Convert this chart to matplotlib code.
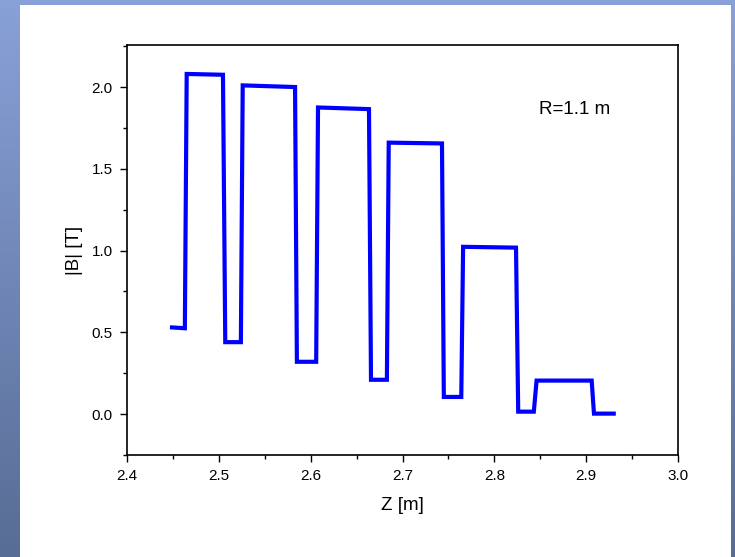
import matplotlib
matplotlib.use('Agg')
import matplotlib.pyplot as plt
import matplotlib.ticker as mticker
from matplotlib.patches import Rectangle
import numpy as np

plt.rcParams['font.family'] = ['Liberation Sans', 'DejaVu Sans']

# ── Data: stepped |B| profile along Z at R=1.1 m ─────────────────────────────
z = [2.449, 2.463, 2.465, 2.5045, 2.507, 2.524, 2.526, 2.583, 2.585, 2.606,
     2.608, 2.6635, 2.6657, 2.683, 2.685, 2.743, 2.745, 2.764, 2.766, 2.8236,
     2.826, 2.843, 2.846, 2.906, 2.9085, 2.930]
b = [0.53, 0.525, 2.08, 2.075, 0.44, 0.44, 2.01, 2.00, 0.32, 0.32,
     1.875, 1.865, 0.21, 0.21, 1.66, 1.655, 0.105, 0.105, 1.023, 1.018,
     0.015, 0.015, 0.205, 0.205, 0.003, 0.003]

xticks = [2.4, 2.5, 2.6, 2.7, 2.8, 2.9, 3.0]
yticks = [0.0, 0.5, 1.0, 1.5, 2.0]

W, H = 735, 557
fig = plt.figure(figsize=(W / 100, H / 100), dpi=100)

# ── Background: blue gradient frame with white panel ────────────────────────
bg = fig.add_axes([0, 0, 1, 1], zorder=-10)
top_c = np.array([136, 161, 216]) / 255
bot_c = np.array([88, 108, 148]) / 255
t = np.linspace(0, 1, 256)[:, None]
grad = (top_c[None, :] * (1 - t) + bot_c[None, :] * t)[:, None, :]
bg.imshow(grad, aspect='auto', extent=[0, W, H, 0])
bg.add_patch(Rectangle((20, 5), 711, H - 5, facecolor='white', edgecolor='none'))
bg.set_xlim(0, W)
bg.set_ylim(H, 0)
bg.axis('off')

# ── Main axes ───────────────────────────────────────────────────────────────
left, right, top, bottom = 127, 678, 45, 455
ax = fig.add_axes([left / W, 1 - bottom / H, (right - left) / W, (bottom - top) / H])
ax.patch.set_alpha(0)

ax.plot(z, b, color='#0000ff', linewidth=3.0, solid_joinstyle='miter')

ax.set_xlim(2.4, 3.0)
ax.set_ylim(-0.25, 2.257)
ax.set_xticks(xticks)
ax.set_yticks(yticks)
ax.xaxis.set_major_formatter(mticker.FormatStrFormatter('%.1f'))
ax.yaxis.set_major_formatter(mticker.FormatStrFormatter('%.1f'))
ax.xaxis.set_minor_locator(mticker.MultipleLocator(0.05))
ax.yaxis.set_minor_locator(mticker.MultipleLocator(0.25))
ax.tick_params(which='major', direction='out', length=5.2, width=1.0, labelsize=11,
               pad=5, top=False, right=False)
ax.tick_params(which='minor', direction='out', length=3, width=1.0,
               top=False, right=False)
for s in ax.spines.values():
    s.set_linewidth(1.2)

ax.set_xlabel('Z [m]', fontsize=13.5, labelpad=10)
ax.set_ylabel('|B| [T]', fontsize=13.5, labelpad=6)
ax.text(0.748, 0.843, 'R=1.1 m', transform=ax.transAxes, fontsize=13.5,
        ha='left', va='center')

fig.savefig('out.png', dpi=100)
